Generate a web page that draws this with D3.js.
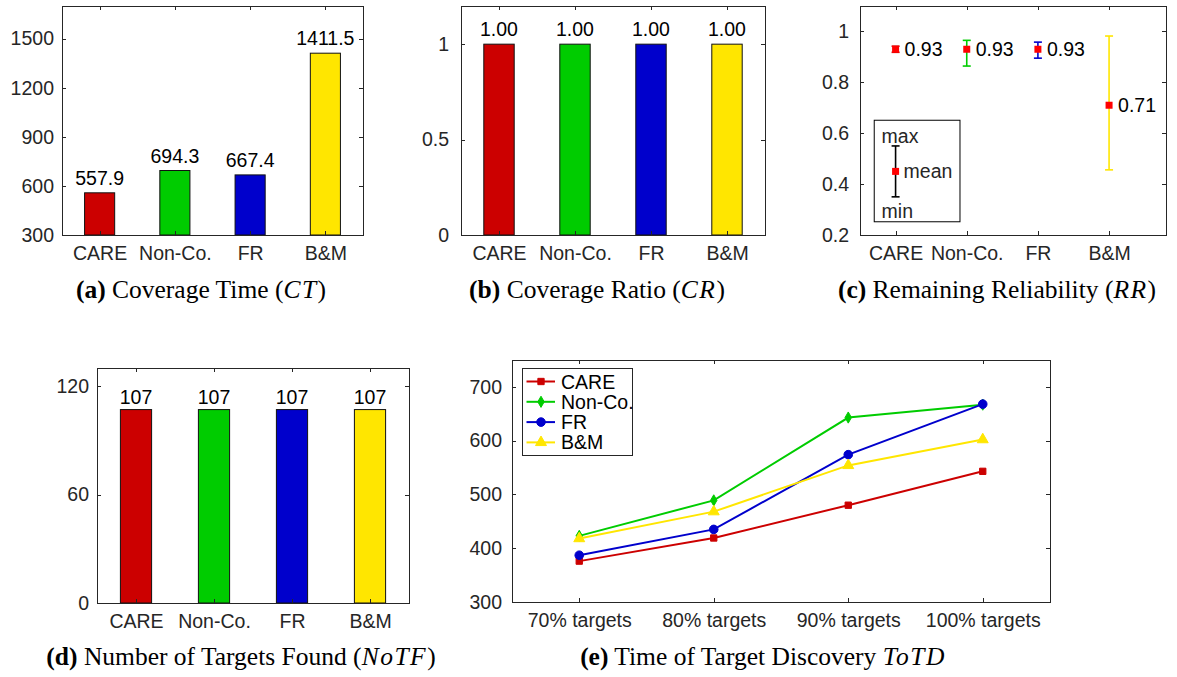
<!DOCTYPE html>
<html>
<head>
<meta charset="utf-8">
<script src="https://cdn.jsdelivr.net/npm/d3@7"></script>
<style>
body { margin: 0; background: #fff; }
svg text { font-family: "Liberation Sans", Arial, Helvetica, sans-serif; font-size: 19.5px; }
svg text.cap { font-family: "Liberation Serif", "Times New Roman", serif; font-size: 25.5px; fill: #000; }
</style>
</head>
<body>
<svg id="svg"></svg>
<script>
// data
const methods = ["CARE", "Non-Co.", "FR", "B&M"];
const colors = ["#cc0000", "#00cc00", "#0000cc", "#ffe600"];

const coverageTime = [557.9, 694.3, 667.4, 1411.5];
const coverageRatio = [1.00, 1.00, 1.00, 1.00];

const rrMean = [0.93, 0.93, 0.93, 0.71];
const rrMin = [0.918, 0.864, 0.895, 0.456];
const rrMax = [0.942, 0.965, 0.958, 0.982];

const targetsFound = [107, 107, 107, 107];

const targetLevels = ["70% targets", "80% targets", "90% targets", "100% targets"];
const totdCARE = [376, 419, 480, 543];
const totdNonCo = [423, 489, 643, 667];
const totdFR = [387, 435, 574, 668];
const totdBM = [418, 468, 554, 602];

const w = 1177;
const h = 677;
const axisColor = "#262626";
const tickLen = 4;

const svg = d3.select("#svg").attr("width", w).attr("height", h);

function panel(p) {
  const g = svg.append("g").attr("transform", "translate(" + p.x + "," + p.y + ")");
  const x = d3.scaleLinear().domain(p.xDomain).range([0, p.w]);
  const y = d3.scaleLinear().domain(p.yDomain).range([p.h, 0]);
  return { g: g, x: x, y: y, p: p };
}

function drawAxes(P) {
  const g = P.g, x = P.x, y = P.y, p = P.p;
  const left = g.append("g")
    .call(d3.axisLeft(y).tickValues(p.yTicks).tickFormat(d => String(d)).tickSize(-tickLen).tickPadding(p.padL));
  const right = g.append("g").attr("transform", "translate(" + p.w + ",0)")
    .call(d3.axisRight(y).tickValues(p.yTicks).tickFormat("").tickSize(-tickLen));
  const bottom = g.append("g").attr("transform", "translate(0," + p.h + ")")
    .call(d3.axisBottom(x).tickValues(p.xTicks).tickFormat(p.xFmt).tickSize(-tickLen).tickPadding(11.5));
  const top = g.append("g")
    .call(d3.axisTop(x).tickValues(p.xTicks).tickFormat("").tickSize(-tickLen));
  [left, right, bottom, top].forEach(a => {
    a.select(".domain").remove();
    a.selectAll("line").attr("stroke", axisColor).attr("shape-rendering", "crispEdges");
    a.selectAll("text").attr("fill", axisColor);
  });
  g.append("rect")
    .attr("width", p.w).attr("height", p.h)
    .attr("fill", "none").attr("stroke", axisColor)
    .attr("shape-rendering", "crispEdges");
}

function caption(cx, cy, label, before, ital, after) {
  const t = svg.append("text").attr("class", "cap").attr("x", cx).attr("y", cy).attr("text-anchor", "middle");
  t.append("tspan").attr("font-weight", "bold").text(label);
  t.append("tspan").text(before);
  t.append("tspan").attr("font-style", "italic").attr("letter-spacing", "1.5px").text(ital);
  t.append("tspan").text(after);
}

function barPanel(p, values, fmt) {
  const P = panel(p);
  const idx = d3.range(values.length);
  const bw = P.x(1.4) - P.x(1);
  P.g.selectAll("rect.bar").data(idx).enter().append("rect")
    .attr("class", "bar")
    .attr("x", i => P.x(i + 1) - bw / 2)
    .attr("width", bw)
    .attr("y", i => P.y(values[i]))
    .attr("height", i => P.y(p.yDomain[0]) - P.y(values[i]))
    .attr("fill", i => colors[i])
    .attr("stroke", "#111")
    .attr("stroke-width", 1);
  P.g.selectAll("text.val").data(idx).enter().append("text")
    .attr("class", "val")
    .attr("x", i => P.x(i + 1))
    .attr("y", i => P.y(values[i]) - p.labelGap)
    .attr("text-anchor", "middle")
    .attr("fill", "#000")
    .text(i => fmt(values[i]));
  drawAxes(P);
  return P;
}

const catFmt = d => methods[d - 1];

// (a) coverage time
barPanel({ x: 62, y: 6, w: 301, h: 229, xDomain: [0.5, 4.5], yDomain: [300, 1700],
  yTicks: [300, 600, 900, 1200, 1500], xTicks: [1, 2, 3, 4], xFmt: catFmt, padL: 8, labelGap: 8 },
  coverageTime, d => d.toFixed(1));
caption(201, 298, "(a)", " Coverage Time (", "CT", ")");

// (b) coverage ratio
barPanel({ x: 461, y: 6, w: 304, h: 229, xDomain: [0.5, 4.5], yDomain: [0, 1.2],
  yTicks: [0, 0.5, 1], xTicks: [1, 2, 3, 4], xFmt: catFmt, padL: 12, labelGap: 8 },
  coverageRatio, d => d.toFixed(2));
caption(597, 298, "(b)", " Coverage Ratio (", "CR", ")");

// (c) remaining reliability
const C = panel({ x: 860, y: 6, w: 306, h: 229, xDomain: [0.5, 4.8], yDomain: [0.2, 1.1],
  yTicks: [0.2, 0.4, 0.6, 0.8, 1], xTicks: [1, 2, 3, 4], xFmt: catFmt, padL: 11 });

function errBar(g, x, y, xv, lo, hi, mid, col) {
  const cap = 4;
  g.append("line").attr("x1", x(xv)).attr("x2", x(xv)).attr("y1", y(lo)).attr("y2", y(hi))
    .attr("stroke", col).attr("stroke-width", 1.6);
  [lo, hi].forEach(v => {
    g.append("line").attr("x1", x(xv) - cap).attr("x2", x(xv) + cap).attr("y1", y(v)).attr("y2", y(v))
      .attr("stroke", col).attr("stroke-width", 1.6);
  });
  g.append("rect").attr("x", x(xv) - 3.5).attr("y", y(mid) - 3.5).attr("width", 7).attr("height", 7)
    .attr("fill", "#ff0000");
}

rrMean.forEach((m, i) => {
  errBar(C.g, C.x, C.y, i + 1, rrMin[i], rrMax[i], m, colors[i]);
  C.g.append("text").attr("x", C.x(i + 1) + 9).attr("y", C.y(m)).attr("dy", "0.36em")
    .attr("fill", "#000").text(m.toFixed(2));
});

// little key box for the error bars
const keyBox = { x0: 0.7, x1: 1.905, y0: 0.252, y1: 0.651 };
const keyBar = { min: 0.35, mean: 0.45, max: 0.55 };
C.g.append("rect")
  .attr("x", C.x(keyBox.x0)).attr("y", C.y(keyBox.y1))
  .attr("width", C.x(keyBox.x1) - C.x(keyBox.x0)).attr("height", C.y(keyBox.y0) - C.y(keyBox.y1))
  .attr("fill", "#fff").attr("stroke", "#000").attr("stroke-width", 1);
errBar(C.g, C.x, C.y, 1, keyBar.min, keyBar.max, keyBar.mean, "#000");
C.g.append("text").attr("x", C.x(1) - 14).attr("y", C.y(0.588)).attr("dy", "0.36em").attr("fill", "#262626").text("max");
C.g.append("text").attr("x", C.x(1) + 8).attr("y", C.y(keyBar.mean)).attr("dy", "0.36em").attr("fill", "#262626").text("mean");
C.g.append("text").attr("x", C.x(1) - 14).attr("y", C.y(0.296)).attr("dy", "0.36em").attr("fill", "#262626").text("min");
drawAxes(C);
caption(997, 298, "(c)", " Remaining Reliability (", "RR", ")");

// (d) number of targets found
barPanel({ x: 97, y: 368, w: 312, h: 235, xDomain: [0.5, 4.5], yDomain: [0, 130],
  yTicks: [0, 60, 120], xTicks: [1, 2, 3, 4], xFmt: catFmt, padL: 8, labelGap: 6 },
  targetsFound, d => String(d));
caption(241, 665, "(d)", " Number of Targets Found (", "NoTF", ")");

// (e) time of target discovery
const E = panel({ x: 512, y: 360, w: 538, h: 242, xDomain: [0.5, 4.5], yDomain: [300, 750],
  yTicks: [300, 400, 500, 600, 700], xTicks: [1, 2, 3, 4], xFmt: d => targetLevels[d - 1], padL: 10 });

const series = [
  { name: methods[0], vals: totdCARE, col: colors[0], sym: d3.symbolSquare, size: 40 },
  { name: methods[1], vals: totdNonCo, col: colors[1], sym: d3.symbolDiamond, size: 36 },
  { name: methods[2], vals: totdFR, col: colors[2], sym: d3.symbolCircle, size: 58 },
  { name: methods[3], vals: totdBM, col: colors[3], sym: d3.symbolTriangle, size: 52 }
];

const line = d3.line().x((d, i) => E.x(i + 1)).y(d => E.y(d));

series.forEach(s => {
  E.g.append("path").datum(s.vals).attr("d", line)
    .attr("fill", "none").attr("stroke", s.col).attr("stroke-width", 2);
  E.g.selectAll(null).data(s.vals).enter().append("path")
    .attr("transform", (d, i) => "translate(" + E.x(i + 1) + "," + E.y(d) + ")")
    .attr("d", d3.symbol().type(s.sym).size(s.size))
    .attr("fill", s.col).attr("stroke", s.col).attr("stroke-width", 1);
});
drawAxes(E);

// legend
const lg = E.g.append("g").attr("transform", "translate(10,8)");
lg.append("rect").attr("width", 110).attr("height", 87)
  .attr("fill", "#fff").attr("stroke", axisColor).attr("shape-rendering", "crispEdges");
series.forEach((s, i) => {
  const yy = 13.5 + i * 20.3;
  lg.append("line").attr("x1", 4.5).attr("x2", 33).attr("y1", yy).attr("y2", yy)
    .attr("stroke", s.col).attr("stroke-width", 2);
  lg.append("path").attr("transform", "translate(19," + yy + ")")
    .attr("d", d3.symbol().type(s.sym).size(s.size)).attr("fill", s.col).attr("stroke", s.col);
  lg.append("text").attr("x", 39).attr("y", yy).attr("dy", "0.36em").attr("fill", "#000").text(s.name);
});
caption(763, 665, "(e)", " Time of Target Discovery ", "ToTD", "");
</script>
</body>
</html>
